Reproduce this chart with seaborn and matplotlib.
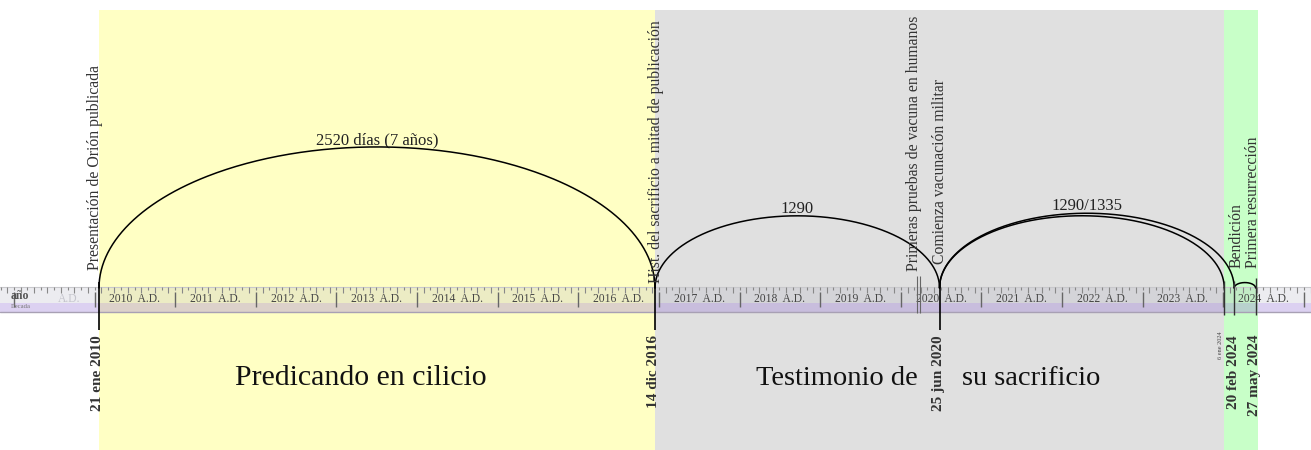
import numpy as np
import matplotlib.pyplot as plt
import matplotlib.dates as mdates
import matplotlib.transforms as mtransforms
import pandas as pd
import seaborn as sns

# Eventos (arriba del eje)
event_dates = ['2010-01-21', '2016-12-14', '2020-03-16', '2020-06-25', '2024-02-20', '2024-05-27']
event_labels = ['Presentación de Orión publicada',
                'Hist. del sacrificio a mitad de publicación',
                'Primeras pruebas de vacuna en humanos',
                'Comienza vacunación militar',
                'Bendición',
                'Primera resurrección']

# Fechas (abajo del eje)
date_marks = ['2010-01-21', '2016-12-14', '2020-06-25', '2024-02-20', '2024-05-27']
date_labels = ['21 ene 2010', '14 dic 2016', '25 jun 2020', '20 feb 2024', '27 may 2024']
small_date = '2024-01-06'
small_label = '6 ene 2024'
vaccine_lines = ['2020-03-16', '2020-03-30']

# Arcos
arc_start = ['2010-01-21', '2016-12-14', '2020-06-25', '2020-06-25', '2024-02-20']
arc_end = ['2016-12-14', '2020-06-25', '2024-01-06', '2024-02-20', '2024-05-27']
arc_labels = ['2520 días (7 años)', '1290', '', '1290/1335', '']

# Periodos
period_start = ['2010-01-21', '2016-12-14', '2024-01-06']
period_end = ['2016-12-14', '2024-01-06', '2024-06-05']
period_colors = ['#FFFFC4', '#E0E0E0', '#C8FFC8']

years = list(range(2010, 2025))

# ---------------------------------------------------------------
sns.set_style("white")
plt.rcParams['font.family'] = ['Liberation Serif', 'DejaVu Serif']

d = mdates.datestr2num
ppd = 556 / (d('2016-12-14') - d('2010-01-21'))   # px por dia
x0 = d('2010-01-21') - 99 / ppd
x1 = x0 + 1311 / ppd

def px(p):
    return x0 + p / ppd

fig = plt.figure(figsize=(13.11, 4.5), dpi=100)
ax = fig.add_axes([0, 0, 1, 1])

def shift(dx):
    return mtransforms.offset_copy(ax.transData, fig=fig, x=dx, y=0, units='dots')

# fondos de periodos
for s, e, c in zip(period_start, period_end, period_colors):
    ax.fill_betweenx([10, 450], d(s), d(e), color=c, lw=0, zorder=0)

# regla
base = 288
ax.axhspan(287, 303, color='#B4B4C4', alpha=0.25, lw=0, zorder=1)
ax.axhspan(303, 312, color='#9C7CD8', alpha=0.35, lw=0, zorder=1)
ax.axhline(287, color='#C8C8CC', lw=0.8, zorder=2)
ax.axhline(312, color='#A8A0B4', lw=1.0, zorder=2)

months = pd.date_range('2008-10-01', '2025-03-01', freq='MS')
mx = mdates.date2num(months)
ax.vlines(mx, 287, [290 if m.month % 2 else 292.5 for m in months], color='#888888', lw=0.8, zorder=2)
ys = pd.date_range('2009-01-01', '2026-01-01', freq='YS')
ax.vlines(mdates.date2num(ys), 292, 307, color='#666666', lw=1.0, zorder=2)

for y in years:
    mid = d(f'{y}-07-02')
    ax.text(mid, 298.5, f'{y}  A.D.', ha='center', va='center', fontsize=8.4,
            color='#444444', zorder=3)
ax.text(px(69), 298.5, 'A.D.', ha='center', va='center', fontsize=8.4, color='#C4C4CC', zorder=3)
ax.text(px(11), 296, 'año', ha='left', va='center', fontsize=8.5, color='#555555',
        fontweight='bold', zorder=4)
ax.text(px(11), 306.5, 'Decada', ha='left', va='center', fontsize=4.8, color='#777777', zorder=4)

# arcos
rows = []
for i, (s, e) in enumerate(zip(arc_start, arc_end)):
    a, b = d(s), d(e)
    h = 0.056 * (b - a)
    t = np.linspace(np.pi, 0, 300)
    rows.append(pd.DataFrame({'x': (a + b) / 2 + (b - a) / 2 * np.cos(t),
                              'y': base - h * np.sin(t), 'arc': i}))
    if arc_labels[i]:
        ax.text((a + b) / 2, base - h + 1, arc_labels[i], ha='center', va='bottom',
                fontsize=12, color='#222222', zorder=5)
arcs = pd.concat(rows, ignore_index=True)
sns.lineplot(data=arcs, x='x', y='y', units='arc', estimator=None, sort=False,
             color='black', lw=1.1, ax=ax, legend=False, zorder=5)

# lineas verticales
big = ['2010-01-21', '2016-12-14', '2020-06-25']
ax.vlines([d(v) for v in big], 282, 330, color='black', lw=1.2, zorder=6)
ax.vlines([d(small_date), d('2024-02-20')], 281, 315, color='#333333', lw=1.0, zorder=6)
ax.vlines(d('2024-05-27'), 278, 315, color='#333333', lw=1.0, zorder=6)
ax.vlines([d(v) for v in vaccine_lines], 276, 313, color='#666666', lw=0.8, zorder=6)

# etiquetas de eventos
ev_dx = [-4, 1, -3, 0, 2, -3]
ev_bottom = [270, 283, 271, 264, 268, 268]
for dt, lab, dx, yb in zip(event_dates, event_labels, ev_dx, ev_bottom):
    ax.text(d(dt), yb, lab, rotation=90, ha='center', va='bottom', fontsize=11.3,
            color='#333333', transform=shift(dx), zorder=7)

# etiquetas de fechas
for dt, lab in zip(date_marks, date_labels):
    ax.text(d(dt), 335, lab, rotation=90, ha='center', va='top', fontsize=11,
            color='#333333', fontweight='bold', transform=shift(-1), zorder=7)
ax.text(d(small_date), 331, small_label, rotation=90, ha='center', va='top',
        fontsize=4.5, color='#444444', transform=shift(-4), zorder=7)

# titulos de periodos
ax.text(px(361), 385, 'Predicando en cilicio', ha='center', va='baseline',
        fontsize=21.5, color='#111111', zorder=7)
ax.text(d('2020-06-25'), 385, 'Testimonio de', ha='right', va='baseline',
        fontsize=20.5, color='#111111', transform=shift(-22), zorder=7)
ax.text(d('2020-06-25'), 385, 'su sacrificio', ha='left', va='baseline',
        fontsize=20.5, color='#111111', transform=shift(22), zorder=7)

ax.set_xlim(x0, x1)
ax.set_ylim(450, 0)
ax.set_axis_off()

fig.savefig('out.png', dpi=100)
